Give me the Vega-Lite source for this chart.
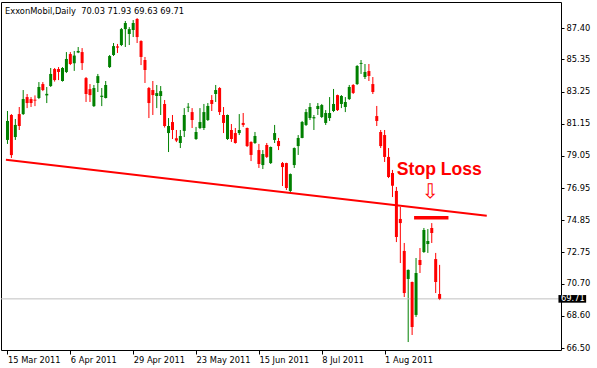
{
  "$schema": "https://vega.github.io/schema/vega-lite/v6.json",
  "width": 560,
  "height": 348,
  "autosize": "none",
  "padding": {"left": 1, "top": 2, "right": 36, "bottom": 18},
  "background": "white",
  "view": {"stroke": "black", "strokeWidth": 1},
  "config": {
    "axis": {"labelOverlap": false, "labelFlush": false, "labelBound": false}
  },
  "title": {"text": "ExxonMobil,Daily\u00a0 70.03 71.93 69.63 69.71", "anchor": "start", "frame": "group", "offset": -20.5, "font": "DejaVu Sans", "fontSize": 8.3, "fontWeight": "normal", "color": "black", "dx": 4, "baseline": "alphabetic"},
  "datasets": {
    "candles": [
      {"i":0,"o":80.09,"h":81.98,"l":79.83,"c":81.33},
      {"i":1,"o":81.72,"h":81.78,"l":78.91,"c":79.10},
      {"i":2,"o":80.28,"h":81.46,"l":80.09,"c":81.07},
      {"i":3,"o":81.78,"h":82.24,"l":80.74,"c":81.00},
      {"i":4,"o":81.78,"h":83.35,"l":81.72,"c":82.76},
      {"i":5,"o":82.89,"h":83.09,"l":82.17,"c":82.50},
      {"i":6,"o":82.76,"h":82.89,"l":82.24,"c":82.50},
      {"i":7,"o":82.72,"h":83.00,"l":82.30,"c":82.66},
      {"i":8,"o":82.83,"h":83.87,"l":82.76,"c":83.55},
      {"i":9,"o":83.74,"h":83.87,"l":83.28,"c":83.35},
      {"i":10,"o":83.00,"h":83.55,"l":82.50,"c":83.10},
      {"i":11,"o":83.61,"h":84.79,"l":83.55,"c":84.40},
      {"i":12,"o":84.72,"h":84.79,"l":83.90,"c":84.00},
      {"i":13,"o":84.72,"h":84.85,"l":84.00,"c":84.53},
      {"i":14,"o":83.94,"h":84.85,"l":83.90,"c":84.79},
      {"i":15,"o":84.53,"h":85.83,"l":84.46,"c":85.38},
      {"i":16,"o":85.70,"h":85.83,"l":84.98,"c":85.05},
      {"i":17,"o":85.10,"h":85.90,"l":84.60,"c":85.60},
      {"i":18,"o":85.80,"h":86.16,"l":85.76,"c":85.90},
      {"i":19,"o":85.83,"h":86.09,"l":84.66,"c":85.11},
      {"i":20,"o":84.13,"h":84.20,"l":82.57,"c":83.09},
      {"i":21,"o":83.41,"h":83.74,"l":82.57,"c":83.02},
      {"i":22,"o":82.30,"h":83.68,"l":82.24,"c":83.48},
      {"i":23,"o":83.81,"h":84.40,"l":83.22,"c":84.26},
      {"i":24,"o":82.90,"h":83.48,"l":82.30,"c":82.98},
      {"i":25,"o":82.83,"h":83.94,"l":82.80,"c":83.68},
      {"i":26,"o":84.85,"h":85.64,"l":84.79,"c":85.57},
      {"i":27,"o":85.64,"h":86.42,"l":85.57,"c":86.22},
      {"i":28,"o":86.20,"h":86.36,"l":85.77,"c":86.12},
      {"i":29,"o":86.29,"h":87.40,"l":86.22,"c":87.33},
      {"i":30,"o":87.33,"h":87.86,"l":86.16,"c":87.73},
      {"i":31,"o":87.01,"h":87.46,"l":86.29,"c":87.33},
      {"i":32,"o":87.27,"h":87.92,"l":86.81,"c":87.73},
      {"i":33,"o":87.99,"h":88.05,"l":86.42,"c":86.81},
      {"i":34,"o":86.55,"h":86.60,"l":84.98,"c":85.51},
      {"i":35,"o":85.31,"h":85.51,"l":83.81,"c":84.66},
      {"i":36,"o":83.48,"h":83.55,"l":81.52,"c":82.50},
      {"i":37,"o":83.35,"h":83.94,"l":81.72,"c":83.02},
      {"i":38,"o":82.96,"h":83.68,"l":82.17,"c":83.15},
      {"i":39,"o":82.96,"h":83.61,"l":81.72,"c":83.28},
      {"i":40,"o":82.44,"h":82.70,"l":80.90,"c":81.00},
      {"i":41,"o":80.54,"h":81.52,"l":79.30,"c":81.00},
      {"i":42,"o":81.26,"h":81.72,"l":80.15,"c":80.74},
      {"i":43,"o":80.20,"h":80.74,"l":79.95,"c":80.05},
      {"i":44,"o":79.89,"h":80.74,"l":79.56,"c":80.35},
      {"i":45,"o":80.68,"h":82.17,"l":80.28,"c":81.72},
      {"i":46,"o":82.20,"h":82.50,"l":81.91,"c":82.26},
      {"i":47,"o":81.91,"h":82.17,"l":80.87,"c":81.39},
      {"i":48,"o":80.15,"h":80.94,"l":80.09,"c":80.61},
      {"i":49,"o":80.87,"h":82.17,"l":80.80,"c":81.26},
      {"i":50,"o":80.87,"h":82.44,"l":80.74,"c":81.91},
      {"i":51,"o":81.39,"h":82.50,"l":81.33,"c":82.31},
      {"i":52,"o":82.70,"h":83.02,"l":81.98,"c":82.44},
      {"i":53,"o":83.09,"h":83.68,"l":82.57,"c":83.35},
      {"i":54,"o":83.48,"h":83.54,"l":81.72,"c":81.91},
      {"i":55,"o":81.72,"h":82.24,"l":80.54,"c":81.20},
      {"i":56,"o":80.15,"h":81.75,"l":80.09,"c":81.72},
      {"i":57,"o":80.74,"h":81.13,"l":79.96,"c":80.15},
      {"i":58,"o":80.54,"h":80.87,"l":79.85,"c":79.89},
      {"i":59,"o":80.54,"h":81.78,"l":80.41,"c":80.74},
      {"i":60,"o":81.20,"h":81.85,"l":80.94,"c":81.07},
      {"i":61,"o":80.87,"h":80.90,"l":79.63,"c":79.69},
      {"i":62,"o":79.96,"h":80.00,"l":78.71,"c":79.11},
      {"i":63,"o":79.89,"h":80.61,"l":79.83,"c":80.35},
      {"i":64,"o":79.43,"h":79.83,"l":78.26,"c":78.52},
      {"i":65,"o":78.45,"h":79.43,"l":78.19,"c":79.17},
      {"i":66,"o":79.76,"h":79.89,"l":78.91,"c":78.98},
      {"i":67,"o":78.58,"h":79.66,"l":78.52,"c":79.63},
      {"i":68,"o":80.09,"h":81.07,"l":79.89,"c":80.54},
      {"i":69,"o":80.02,"h":80.22,"l":79.43,"c":79.69},
      {"i":70,"o":78.58,"h":78.65,"l":77.08,"c":78.32},
      {"i":71,"o":78.58,"h":78.60,"l":76.82,"c":76.95},
      {"i":72,"o":76.76,"h":77.90,"l":76.69,"c":77.86},
      {"i":73,"o":78.45,"h":79.60,"l":78.26,"c":79.56},
      {"i":74,"o":79.69,"h":80.41,"l":79.11,"c":80.22},
      {"i":75,"o":80.22,"h":81.33,"l":80.20,"c":81.26},
      {"i":76,"o":81.07,"h":82.11,"l":81.00,"c":81.91},
      {"i":77,"o":81.52,"h":82.50,"l":81.39,"c":82.24},
      {"i":78,"o":81.50,"h":81.72,"l":80.74,"c":81.58},
      {"i":79,"o":82.11,"h":82.50,"l":81.72,"c":82.31},
      {"i":80,"o":81.59,"h":82.44,"l":81.52,"c":82.37},
      {"i":81,"o":81.20,"h":82.04,"l":81.07,"c":81.85},
      {"i":82,"o":81.52,"h":82.89,"l":81.33,"c":81.85},
      {"i":83,"o":81.98,"h":83.42,"l":81.91,"c":82.44},
      {"i":84,"o":83.02,"h":83.05,"l":81.98,"c":82.04},
      {"i":85,"o":82.44,"h":83.02,"l":82.17,"c":82.96},
      {"i":86,"o":82.24,"h":82.89,"l":81.91,"c":82.57},
      {"i":87,"o":82.76,"h":83.68,"l":82.70,"c":83.55},
      {"i":88,"o":83.68,"h":83.74,"l":83.09,"c":83.16},
      {"i":89,"o":83.74,"h":84.98,"l":83.68,"c":84.92},
      {"i":90,"o":85.06,"h":85.31,"l":84.40,"c":85.12},
      {"i":91,"o":84.20,"h":85.05,"l":84.07,"c":84.53},
      {"i":92,"o":84.59,"h":85.05,"l":83.94,"c":84.27},
      {"i":93,"o":83.74,"h":84.20,"l":83.09,"c":83.22},
      {"i":94,"o":81.65,"h":82.31,"l":81.00,"c":81.33},
      {"i":95,"o":80.61,"h":80.74,"l":79.56,"c":79.69},
      {"i":96,"o":80.41,"h":80.74,"l":78.65,"c":78.98},
      {"i":97,"o":78.98,"h":79.56,"l":77.60,"c":77.67},
      {"i":98,"o":77.93,"h":78.13,"l":76.36,"c":77.10},
      {"i":99,"o":76.76,"h":77.02,"l":73.42,"c":73.75},
      {"i":100,"o":74.93,"h":75.71,"l":72.05,"c":74.66},
      {"i":101,"o":72.84,"h":73.36,"l":69.83,"c":70.09},
      {"i":102,"o":71.01,"h":71.63,"l":66.89,"c":71.60},
      {"i":103,"o":70.81,"h":70.84,"l":67.35,"c":67.87},
      {"i":104,"o":68.66,"h":72.38,"l":68.53,"c":71.40},
      {"i":105,"o":72.25,"h":73.03,"l":71.40,"c":71.92},
      {"i":106,"o":72.77,"h":74.34,"l":72.71,"c":74.21},
      {"i":107,"o":73.29,"h":74.27,"l":72.71,"c":73.49},
      {"i":108,"o":74.34,"h":74.66,"l":73.36,"c":74.01},
      {"i":109,"o":72.31,"h":72.71,"l":70.09,"c":70.81},
      {"i":110,"o":70.03,"h":71.93,"l":69.63,"c":69.71}
    ],
    "trend": [
      {"i": -0.4, "p": 78.79},
      {"i": 122, "p": 75.14}
    ]
  },
  "layer": [
    {
      "data": {"name": "candles"},
      "mark": {"type": "rule", "strokeWidth": 1},
      "encoding": {
        "x": {"field": "i", "type": "quantitative", "scale": {"domain": [-0.375, 139.625], "nice": false, "zero": false},
          "axis": {"orient": "bottom", "values": [0, 16, 32, 48, 64, 80, 96], "tickCount": 30, "labelExpr": "['15 Mar 2011','6 Apr 2011','29 Apr 2011','23 May 2011','15 Jun 2011','8 Jul 2011','1 Aug 2011'][round(datum.value/16)]", "title": null, "grid": false, "domain": false, "tickSize": 4, "tickColor": "black", "labelAlign": "left", "labelPadding": 1, "labelFont": "DejaVu Sans", "labelFontSize": 8.3, "labelColor": "black", "labelOverlap": false, "labelFlush": false}},
        "y": {"field": "l", "type": "quantitative", "scale": {"domain": [66.37, 89.10], "nice": false, "zero": false},
          "axis": {"orient": "right", "values": [87.40, 85.35, 83.25, 81.15, 79.05, 76.95, 74.85, 72.75, 70.70, 68.60, 66.50], "tickCount": 30, "format": ".2f", "title": null, "grid": false, "domain": false, "tickSize": 3, "tickColor": "black", "labelPadding": 2, "labelFont": "DejaVu Sans", "labelFontSize": 8.3, "labelColor": "black", "labelBaseline": "middle", "labelOverlap": false, "labelFlush": false, "labelBound": false}},
        "y2": {"field": "h"},
        "color": {"condition": {"test": "datum.c >= datum.o", "value": "#008000"}, "value": "#ff0000"}
      }
    },
    {
      "data": {"values": [{}]},
      "mark": {"type": "rule", "color": "#c0c0c0", "strokeWidth": 1},
      "encoding": {
        "y": {"datum": 69.71, "type": "quantitative"}
      }
    },
    {
      "data": {"name": "candles"},
      "mark": {"type": "bar", "orient": "vertical", "size": 3},
      "encoding": {
        "x": {"field": "i", "type": "quantitative"},
        "y": {"field": "o", "type": "quantitative"},
        "y2": {"field": "c"},
        "color": {"condition": {"test": "datum.c >= datum.o", "value": "#008000"}, "value": "#ff0000"}
      }
    },
    {
      "data": {"name": "trend"},
      "mark": {"type": "line", "color": "#ff0000", "strokeWidth": 2},
      "encoding": {
        "x": {"field": "i", "type": "quantitative"},
        "y": {"field": "p", "type": "quantitative"}
      }
    },
    {
      "data": {"values": [{}]},
      "mark": {"type": "rule", "color": "#ff0000", "strokeWidth": 3.5},
      "encoding": {
        "x": {"datum": 103.5, "type": "quantitative"},
        "x2": {"datum": 112.25},
        "y": {"datum": 75.01, "type": "quantitative"}
      }
    },
    {
      "data": {"values": [{}]},
      "mark": {"type": "text", "text": "Stop Loss", "color": "#ff0000", "font": "Liberation Sans", "fontWeight": "bold", "fontSize": 17.6, "align": "left", "baseline": "alphabetic"},
      "encoding": {
        "x": {"datum": 99.1, "type": "quantitative"},
        "y": {"datum": 77.80, "type": "quantitative"}
      }
    },
    {
      "data": {"values": [{}]},
      "mark": {"type": "text", "text": "⇩", "color": "#ff0000", "font": "DejaVu Sans", "fontSize": 20, "align": "center", "baseline": "middle"},
      "encoding": {
        "x": {"datum": 107.6, "type": "quantitative"},
        "y": {"datum": 76.71, "type": "quantitative"}
      }
    },
    {
      "data": {"values": [{}]},
      "mark": {"type": "rect", "color": "black"},
      "encoding": {
        "x": {"datum": 140.25, "type": "quantitative"},
        "x2": {"datum": 147.3},
        "y": {"datum": 69.46, "type": "quantitative"},
        "y2": {"datum": 69.96}
      }
    },
    {
      "data": {"values": [{}]},
      "mark": {"type": "text", "text": "69.71", "color": "white", "font": "DejaVu Sans", "fontSize": 8.3, "align": "left", "baseline": "middle"},
      "encoding": {
        "x": {"datum": 140.9, "type": "quantitative"},
        "y": {"datum": 69.71, "type": "quantitative"}
      }
    }
  ]
}
